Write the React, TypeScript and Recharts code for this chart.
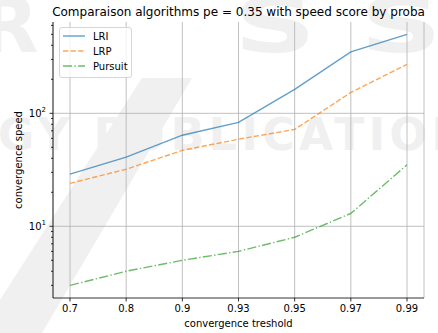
import { LineChart, Line, XAxis, YAxis, CartesianGrid } from "recharts";

// convergence speed per threshold, one list per algorithm
const thresholds = ["0.7", "0.8", "0.9", "0.93", "0.95", "0.97", "0.99"];
const lriSpeed = [29, 41, 64, 83, 163, 350, 500];
const lrpSpeed = [24, 32, 47, 59, 72, 153, 271];
const pursuitSpeed = [3, 4, 5, 6, 8, 13, 35];

const majorTicks = [10, 100];
const minorTicks = [3, 4, 5, 6, 7, 8, 9, 20, 30, 40, 50, 60, 70, 80, 90, 200, 300, 400, 500, 600];

const data = thresholds.map((t, i) => ({
  t,
  LRI: lriSpeed[i],
  LRP: lrpSpeed[i],
  Pursuit: pursuitSpeed[i],
}));

const FONT = "'DejaVu Sans', sans-serif";
const W = 438;
const H = 333;
const M = { top: 22, right: 14, left: 53, bottom: 35 };

const series = [
  { key: "LRI", color: "#1f77b4", dash: undefined },
  { key: "LRP", color: "#ff7f0e", dash: "5.3 2.3" },
  { key: "Pursuit", color: "#2ca02c", dash: "9.1 2.3 1.4 2.3" },
];

function LogTick(props: any) {
  const { x, y, payload } = props;
  const major = majorTicks.includes(payload.value);
  const len = major ? 3.5 : 2;
  return (
    <g>
      <line x1={x} x2={x - len} y1={y} y2={y} stroke="#000" strokeWidth={0.8} />
      {major && (
        <text x={x - len - 3.5} y={y} dy="0.35em" textAnchor="end" fontSize={10} fontFamily={FONT} fill="#000">
          10
          <tspan dy={-5} fontSize={7}>
            {Math.round(Math.log10(payload.value))}
          </tspan>
        </text>
      )}
    </g>
  );
}

// faint publisher stamp behind the plot
function Watermark() {
  const fill = "#f0f0f0";
  return (
    <svg width={W} height={H} style={{ position: "absolute", left: 0, top: 0 }}>
      <g fontFamily={FONT} fontWeight="bold" fill={fill}>
        <text x={-20} y={52} fontSize={76}>R</text>
        <text x={0} y={0} fontSize={76} transform="translate(234 52) scale(1.5 1)">S</text>
        <text x={0} y={0} fontSize={76} transform="translate(360 52) scale(1.5 1)">S</text>
        <text x={-2} y={150} fontSize={44} letterSpacing={4.5}>GY PUBLICATIONS</text>
      </g>
      <polygon points="142,78 192,78 42,333 0,333 0,300" fill={fill} />
    </svg>
  );
}

function LegendBox() {
  return (
    <div
      style={{
        position: "absolute",
        left: 59,
        top: 27,
        width: 71,
        height: 49,
        background: "rgba(255,255,255,0.8)",
        border: "1px solid #d6d6d6",
        borderRadius: 3,
      }}
    >
      <svg width={71} height={49}>
        {series.map((s, i) => (
          <g key={s.key} transform={`translate(0 ${8 + i * 15})`}>
            <line x1={3} x2={25} y1={0} y2={0} stroke={s.color} strokeOpacity={0.7} strokeWidth={1.4} strokeDasharray={s.dash} />
            <text x={33} y={0} dy="0.35em" fontSize={10} fontFamily={FONT} fill="#000">
              {s.key}
            </text>
          </g>
        ))}
      </svg>
    </div>
  );
}

export default function App() {
  const plotCx = M.left + (W - M.left - M.right) / 2;
  const plotCy = M.top + (H - M.top - M.bottom) / 2;
  return (
    <div style={{ position: "absolute", left: 0, top: 0, width: W, height: H, background: "#fff" }}>
      <Watermark />
      <div style={{ position: "absolute", left: 0, top: 0 }}>
        <LineChart width={W} height={H} data={data} margin={{ top: M.top, right: M.right, left: 0, bottom: 0 }}>
          <CartesianGrid horizontal={false} vertical stroke="#b0b0b0" strokeWidth={0.8} />
          <CartesianGrid vertical={false} horizontalValues={majorTicks} stroke="#b0b0b0" strokeWidth={0.8} />
          <XAxis
            dataKey="t"
            scale="point"
            padding={{ left: 17, right: 17 }}
            height={M.bottom}
            tickSize={3.5}
            tickMargin={3}
            stroke="#000"
            tick={{ fontSize: 10, fontFamily: FONT, fill: "#000" }}
            axisLine={{ stroke: "#000", strokeWidth: 0.8 }}
            tickLine={{ stroke: "#000", strokeWidth: 0.8 }}
          />
          <XAxis xAxisId="top" dataKey="t" orientation="top" height={0} tick={false} tickLine={false} axisLine={{ stroke: "#000", strokeWidth: 0.8 }} />
          <YAxis
            scale="log"
            type="number"
            domain={[2.32, 643]}
            allowDataOverflow
            ticks={[...minorTicks, ...majorTicks].sort((a, b) => a - b)}
            interval={0}
            width={M.left}
            tickSize={0}
            tickMargin={0}
            tickLine={false}
            tick={<LogTick />}
            axisLine={{ stroke: "#000", strokeWidth: 0.8 }}
          />
          <YAxis yAxisId="right" orientation="right" width={0} tick={false} tickLine={false} axisLine={{ stroke: "#000", strokeWidth: 0.8 }} />
          {series.map((s) => (
            <Line
              key={s.key}
              dataKey={s.key}
              stroke={s.color}
              strokeOpacity={0.7}
              strokeWidth={1.4}
              strokeDasharray={s.dash}
              dot={false}
              activeDot={false}
              isAnimationActive={false}
            />
          ))}
        </LineChart>
      </div>
      <svg width={W} height={H} style={{ position: "absolute", left: 0, top: 0, pointerEvents: "none" }}>
        <text x={plotCx} y={16} textAnchor="middle" fontSize={12} fontFamily={FONT} fill="#000">
          Comparaison algorithms pe = 0.35 with speed score by proba
        </text>
        <text x={plotCx} y={327} textAnchor="middle" fontSize={10} fontFamily={FONT} fill="#000">
          convergence treshold
        </text>
        <text x={21.5} y={plotCy} textAnchor="middle" fontSize={10} fontFamily={FONT} fill="#000" transform={`rotate(-90 21.5 ${plotCy})`}>
          convergence speed
        </text>
      </svg>
      <LegendBox />
    </div>
  );
}
